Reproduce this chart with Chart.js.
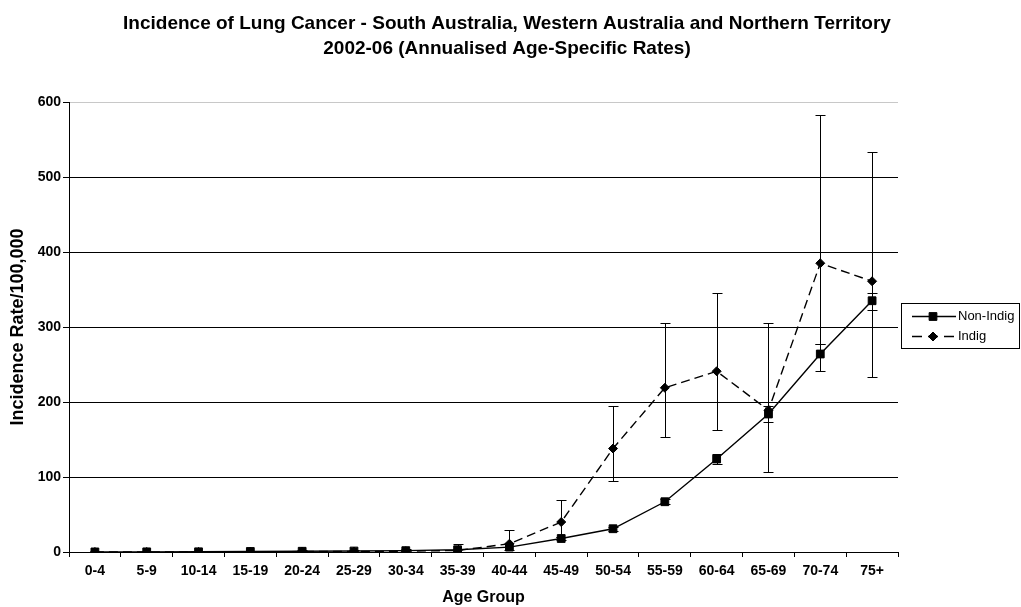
<!DOCTYPE html>
<html>
<head>
<meta charset="utf-8">
<script src="https://cdn.jsdelivr.net/npm/chart.js@4.4.1/dist/chart.umd.min.js"></script>
<style>
  html, body { margin: 0; padding: 0; background: #fff; }
  #chart { display: block; }
</style>
</head>
<body>
<canvas id="chart" width="1021" height="607"></canvas>
<script>
// Данные
const ageGroups = ['0-4', '5-9', '10-14', '15-19', '20-24', '25-29', '30-34', '35-39',
    '40-44', '45-49', '50-54', '55-59', '60-64', '65-69', '70-74', '75+'];

const nonIndig     = [0.1, 0.2, 0.3, 0.7, 1.0, 1.3, 1.8, 3, 6.5, 18, 31, 67, 124, 184, 264, 335];
const nonIndigLow  = [0, 0.1, 0.2, 0.5, 0.8, 1.0, 1.5, 2.5, 5.8, 16.5, 28.5, 63.5, 117, 173, 241, 323];
const nonIndigHigh = [0.2, 0.3, 0.4, 0.9, 1.2, 1.6, 2.1, 3.5, 7.3, 19.5, 33.5, 70.5, 131, 195, 277, 346];

const indig     = [0, 0, 0, 0.3, 0.6, 0.6, 1.1, 2, 11, 40, 138, 219, 241, 189, 385, 361];
const indigLow  = [0, 0, 0, 0, 0, 0, 0.1, 0.2, 3, 20, 95, 153, 163, 107, 277, 234];
const indigHigh = [0.5, 0.6, 0.8, 1.6, 2.5, 2.5, 3.5, 11, 29, 69, 195, 305, 345, 305, 583, 533];

const yTicks = [0, 100, 200, 300, 400, 500, 600];

const titleLines = [
    'Incidence of Lung Cancer - South Australia, Western Australia and Northern Territory',
    '2002-06 (Annualised Age-Specific Rates)'
];

const FONT = '"Liberation Sans", Arial, sans-serif';

// Планки погрешностей
const errorBars = {
    id: 'errorBars',
    afterDatasetsDraw(chart) {
        const ctx = chart.ctx;
        const yScale = chart.scales.y;
        const ranges = [[nonIndigLow, nonIndigHigh], [indigLow, indigHigh]];
        ctx.save();
        ctx.setLineDash([]);
        ctx.strokeStyle = '#000';
        ctx.lineWidth = 1;
        ranges.forEach((r, di) => {
            chart.getDatasetMeta(di).data.forEach((pt, i) => {
                const x = Math.round(pt.x) + 0.5;
                const y1 = Math.round(yScale.getPixelForValue(r[0][i])) + 0.5;
                const y2 = Math.round(yScale.getPixelForValue(r[1][i])) + 0.5;
                if (Math.abs(y1 - y2) < 2) return;
                ctx.beginPath();
                ctx.moveTo(x, y1); ctx.lineTo(x, y2);
                ctx.moveTo(x - 5, y1); ctx.lineTo(x + 5, y1);
                ctx.moveTo(x - 5, y2); ctx.lineTo(x + 5, y2);
                ctx.stroke();
            });
        });
        ctx.restore();
    }
};

// Заголовок и легенда
const decorations = {
    id: 'decorations',
    afterDraw(chart) {
        const ctx = chart.ctx;
        ctx.save();
        ctx.fillStyle = '#000';
        ctx.textAlign = 'center';
        ctx.textBaseline = 'middle';
        ctx.font = 'bold 19px ' + FONT;
        ctx.fillText(titleLines[0], 507, 24);
        ctx.fillText(titleLines[1], 507, 49);

        // легенда
        const lx = 901, ly = 303, lw = 118, lh = 45;
        ctx.strokeStyle = '#000';
        ctx.lineWidth = 1;
        ctx.setLineDash([]);
        ctx.fillStyle = '#fff';
        ctx.fillRect(lx, ly, lw, lh);
        ctx.strokeRect(lx + 0.5, ly + 0.5, lw, lh);

        const rows = [13, 33];
        chart.data.datasets.forEach((ds, i) => {
            const y = ly + rows[i] + 0.5;
            ctx.save();
            ctx.strokeStyle = ds.borderColor;
            ctx.lineWidth = ds.borderWidth;
            ctx.setLineDash(ds.borderDash ? [10, 6] : []);
            ctx.beginPath();
            ctx.moveTo(lx + 11, y);
            ctx.lineTo(lx + 55, y);
            ctx.stroke();
            ctx.setLineDash([]);
            ctx.fillStyle = ds.pointBackgroundColor;
            ctx.strokeStyle = ds.pointBorderColor;
            ctx.lineWidth = ds.pointBorderWidth;
            Chart.helpers.drawPoint(ctx, {
                pointStyle: ds.pointStyle,
                radius: ds.pointRadius,
                rotation: 0,
                borderWidth: ds.pointBorderWidth
            }, lx + 32, y);
            ctx.restore();

            ctx.fillStyle = '#000';
            ctx.textAlign = 'left';
            ctx.font = '13px ' + FONT;
            ctx.fillText(ds.label, lx + 57, y);
        });
        ctx.restore();
    }
};

const ctx = document.getElementById('chart').getContext('2d');
const chart = new Chart(ctx, {
    type: 'line',
    data: {
        labels: ageGroups,
        datasets: [{
            label: 'Non-Indig',
            data: nonIndig,
            borderColor: '#000',
            borderWidth: 1.4,
            pointStyle: 'rect',
            pointRadius: 5.5,
            pointBackgroundColor: '#000',
            pointBorderColor: '#000',
            pointBorderWidth: 1,
            tension: 0,
            fill: false
        }, {
            label: 'Indig',
            data: indig,
            borderColor: '#000',
            borderWidth: 1.4,
            borderDash: [9, 5],
            pointStyle: 'rectRot',
            pointRadius: 4.5,
            pointBackgroundColor: '#000',
            pointBorderColor: '#000',
            pointBorderWidth: 1,
            tension: 0,
            fill: false
        }]
    },
    options: {
        responsive: false,
        animation: false,
        devicePixelRatio: 1,
        layout: {
            padding: { top: 102, right: 123, left: 0, bottom: 0 }
        },
        plugins: {
            legend: { display: false },
            tooltip: { enabled: false },
            title: { display: false }
        },
        scales: {
            x: {
                type: 'category',
                offset: true,
                grid: {
                    display: true,
                    drawOnChartArea: false,
                    drawTicks: true,
                    tickLength: 5,
                    color: '#000',
                    offset: true
                },
                border: { color: '#000', width: 1 },
                ticks: {
                    color: '#000',
                    font: { family: FONT, size: 14, weight: 'bold' },
                    padding: 6,
                    maxRotation: 0,
                    autoSkip: false
                },
                title: {
                    display: true,
                    text: 'Age Group',
                    color: '#000',
                    font: { family: FONT, size: 16, weight: 'bold' },
                    padding: 0
                },
                afterFit(scale) { scale.height = 55; }
            },
            y: {
                min: 0,
                max: 600,
                afterBuildTicks(scale) {
                    scale.ticks = yTicks.map(v => ({ value: v }));
                },
                grid: {
                    color: (c) => (c.tick && c.tick.value === 600) ? '#c8c8c8' : '#000',
                    tickColor: '#000',
                    tickLength: 6,
                    lineWidth: 1
                },
                border: { color: '#000', width: 1 },
                ticks: {
                    color: '#000',
                    font: { family: FONT, size: 14, weight: 'bold' },
                    padding: 2
                },
                title: {
                    display: true,
                    text: 'Incidence Rate/100,000',
                    color: '#000',
                    font: { family: FONT, size: 18, weight: 'bold' },
                    padding: { top: 7, bottom: 0 }
                },
                afterFit(scale) { scale.width = 69; }
            }
        }
    },
    plugins: [errorBars, decorations]
});
</script>
</body>
</html>
